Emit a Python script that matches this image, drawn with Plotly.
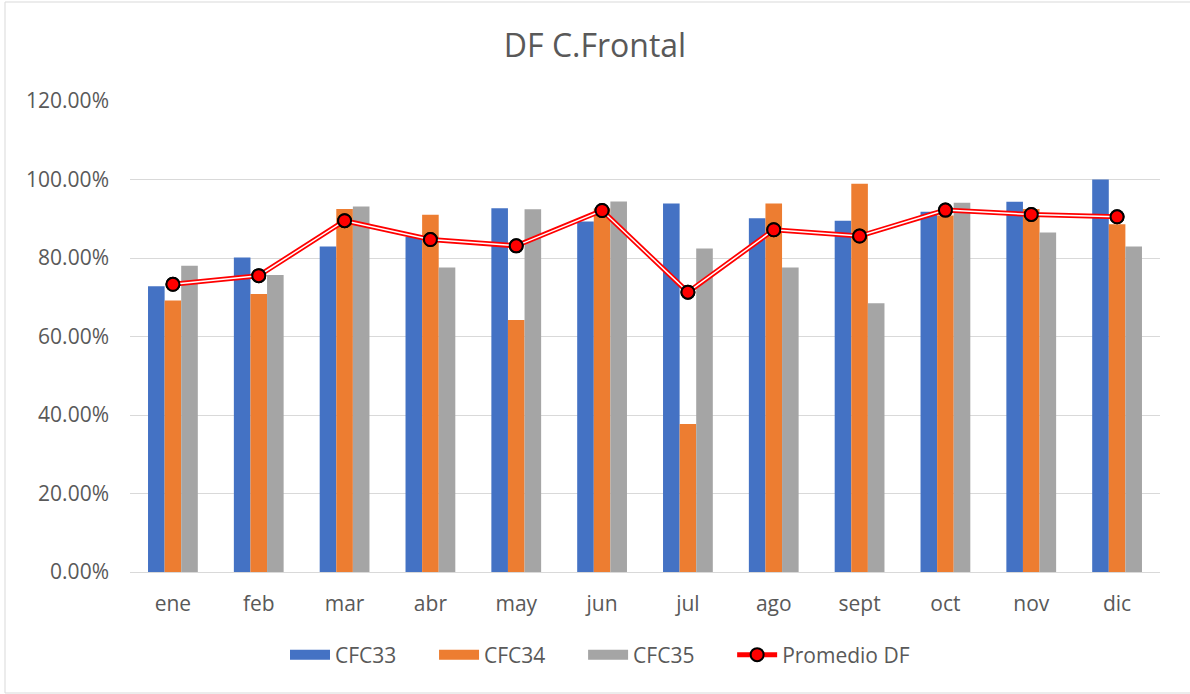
import plotly.graph_objects as go

meses = ["ene", "feb", "mar", "abr", "may", "jun", "jul", "ago", "sept", "oct", "nov", "dic"]
cfc33 = [0.728, 0.801, 0.829, 0.854, 0.927, 0.893, 0.939, 0.901, 0.895, 0.918, 0.943, 1.000]
cfc34 = [0.692, 0.708, 0.925, 0.910, 0.642, 0.926, 0.377, 0.939, 0.989, 0.908, 0.925, 0.886]
cfc35 = [0.780, 0.757, 0.931, 0.776, 0.924, 0.944, 0.824, 0.776, 0.685, 0.941, 0.865, 0.829]
promedio = [0.733, 0.755, 0.895, 0.847, 0.831, 0.921, 0.713, 0.872, 0.856, 0.922, 0.911, 0.905]

series = [("CFC33", cfc33, "#4472C4"), ("CFC34", cfc34, "#ED7D31"), ("CFC35", cfc35, "#A5A5A5")]

PAD = "\u00a0" * 6

fig = go.Figure()
for name, vals, col in series:
    fig.add_bar(x=meses, y=vals, name=name, marker_color=col, marker_line_width=0,
                showlegend=False, legendgroup=name)
# legend entries drawn as wide rectangles (Excel style)
for name, vals, col in series:
    fig.add_scatter(x=[None], y=[None], mode="lines", name=name + PAD, legendgroup=name,
                    line=dict(color=col, width=14))
fig.add_scatter(x=meses, y=promedio, name="Promedio DF", mode="lines+markers",
                line=dict(color="#FF0000", width=5),
                marker=dict(color="#FF0000", size=13, line=dict(color="#000000", width=2)))
fig.add_scatter(x=meses, y=promedio, mode="lines", showlegend=False, hoverinfo="skip",
                line=dict(color="#FFFFFF", width=1.5))
fig.add_scatter(x=meses, y=promedio, mode="markers", showlegend=False, hoverinfo="skip",
                marker=dict(color="#FF0000", size=13, line=dict(color="#000000", width=2)))

L, R, T, B = 130, 1160, 101, 572
W = R - L
H = B - T

fig.update_layout(
    width=1190, height=694,
    paper_bgcolor="white", plot_bgcolor="white",
    margin=dict(l=L, r=1190 - R, t=T, b=694 - B),
    barmode="group", bargap=0.42, bargroupgap=0,
    font=dict(family="Open Sans, sans-serif", color="#595959", size=21),
    title=dict(text="DF C.Frontal", x=0.5, xanchor="center", y=1 - 46 / 694, yanchor="middle",
               font=dict(size=32, color="#595959")),
    legend=dict(orientation="h", x=(285 - L) / W, xanchor="left", y=-(655 - B) / H,
                yanchor="middle", font=dict(size=21, color="#595959"),
                traceorder="normal", itemwidth=40),
    xaxis=dict(type="category", range=[-0.5, 11.5], showgrid=False, showline=True,
               linecolor="#D9D9D9", linewidth=1, ticklabelstandoff=13,
               tickfont=dict(size=21, color="#595959"), ticks=""),
    yaxis=dict(range=[0, 1.2], dtick=0.2, tickformat=".2%", showgrid=True,
               gridcolor="#D9D9D9", gridwidth=1, zeroline=False, showline=False,
               ticklabelstandoff=20,
               tickfont=dict(size=21, color="#595959"), ticks=""),
    shapes=[dict(type="rect", xref="paper", yref="paper",
                 x0=(5 - L) / W, x1=(1196 - L) / W, y0=-(693 - B) / H, y1=1 + (T - 2) / H,
                 line=dict(color="#D9D9D9", width=1), fillcolor="rgba(0,0,0,0)")],
)

fig.write_html("out.html", config={"displayModeBar": False},
               post_script="document.body.style.margin='0';")
